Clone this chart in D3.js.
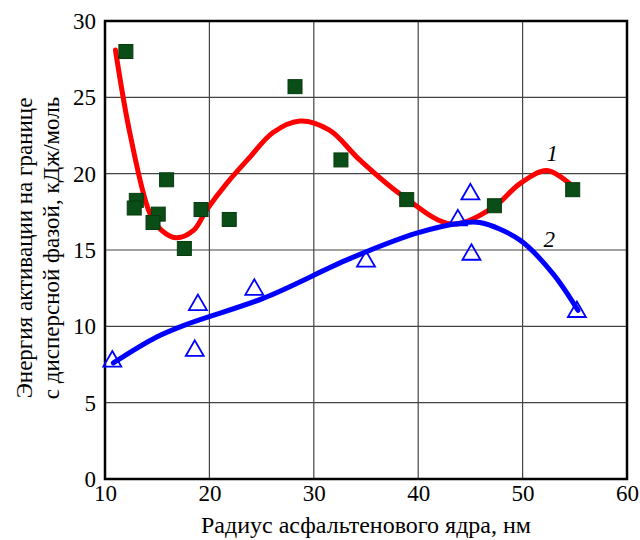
<!DOCTYPE html>
<html>
<head>
<meta charset="utf-8">
<script src="https://cdn.jsdelivr.net/npm/d3@7"></script>
<style>
  body { margin: 0; background: #fff; }
  svg text { font-family: "Liberation Serif", "Times New Roman", "DejaVu Serif", serif; fill: #000; }
</style>
</head>
<body>
<svg id="chart" width="640" height="540"></svg>
<script>
const svg = d3.select('#chart');
const FONT = '"Liberation Serif", "Times New Roman", "DejaVu Serif", serif';

// Measured points, series 1 (squares)
const squaresX = [12.0, 28.2, 32.6, 15.9, 13.0, 12.8, 15.1, 14.6, 19.2, 21.9, 17.6, 38.9, 47.3, 54.8];
const squaresY = [28.0, 25.7, 20.9, 19.6, 18.25, 17.75, 17.35, 16.8, 17.65, 17.0, 15.1, 18.3, 17.9, 18.95];

// Measured points, series 2 (triangles)
const trianglesX = [10.7, 18.9, 18.6, 24.3, 35.0, 43.8, 45.0, 45.1, 55.2];
const trianglesY = [7.7, 11.4, 8.4, 12.4, 14.25, 16.95, 18.65, 14.7, 10.95];

// Fitted curve 1 (red)
const curve1X = [11.0, 12.4, 14.3, 15.4, 16.8, 18.5, 19.7, 21.7, 23.9, 26.1, 28.7, 31.5, 34.4, 38.6, 43.2, 47.2, 49.75, 52.3, 54.5];
const curve1Y = [28.1, 22.6, 17.4, 16.3, 15.8, 16.3, 17.6, 19.4, 21.1, 22.7, 23.45, 22.85, 20.9, 18.5, 16.7, 17.8, 19.35, 20.2, 19.35];

// Fitted curve 2 (blue)
const curve2X = [10.8, 14.95, 18.1, 25.2, 33.5, 39.85, 44.0, 45.9, 49.75, 52.9, 55.3];
const curve2Y = [7.6, 9.3, 10.2, 11.85, 14.45, 16.1, 16.75, 16.8, 15.65, 13.45, 11.05];

const xTicks = [10, 20, 30, 40, 50, 60];
const yTicks = [0, 5, 10, 15, 20, 25, 30];

const xTitle = 'Радиус асфальтенового ядра, нм';
const yTitle = ['Энергия активации на границе', 'с дисперсной фазой, кДж/моль'];

const margin = { left: 105, right: 13, top: 21, bottom: 61 };
const width = +svg.attr('width');
const height = +svg.attr('height');

const x = d3.scaleLinear().domain([10, 60]).range([margin.left, width - margin.right]);
const y = d3.scaleLinear().domain([0, 30]).range([height - margin.bottom, margin.top]);

// grid
const grid = svg.append('g').attr('class', 'grid');
grid.selectAll('line.gx')
    .data(xTicks.slice(1, -1))
    .enter().append('line')
    .attr('x1', d => x(d)).attr('x2', d => x(d))
    .attr('y1', y(0)).attr('y2', y(30))
    .attr('stroke', '#444').attr('stroke-width', 1.2);
grid.selectAll('line.gy')
    .data(yTicks.slice(1, -1))
    .enter().append('line')
    .attr('y1', d => y(d)).attr('y2', d => y(d))
    .attr('x1', x(10)).attr('x2', x(60))
    .attr('stroke', '#444').attr('stroke-width', 1.2);

// frame
svg.append('rect')
    .attr('x', x(10)).attr('y', y(30))
    .attr('width', x(60) - x(10)).attr('height', y(0) - y(30))
    .attr('fill', 'none').attr('stroke', '#000').attr('stroke-width', 2.5);

// axes (labels only, the frame draws the lines)
const xAxis = svg.append('g')
    .attr('transform', `translate(0,${y(0)})`)
    .call(d3.axisBottom(x).tickValues(xTicks).tickSize(0).tickPadding(6));
const yAxis = svg.append('g')
    .attr('transform', `translate(${x(10)},0)`)
    .call(d3.axisLeft(y).tickValues(yTicks).tickSize(0).tickPadding(9));
[xAxis, yAxis].forEach(a => {
    a.attr('font-family', FONT).attr('font-size', 23);
    a.select('.domain').remove();
    a.selectAll('text').attr('fill', '#000');
});

// curves
const line = d3.line()
    .x(d => x(d[0]))
    .y(d => y(d[1]))
    .curve(d3.curveCatmullRom.alpha(0.5));

svg.append('path')
    .datum(d3.zip(curve1X, curve1Y))
    .attr('d', line)
    .attr('fill', 'none').attr('stroke', '#ff0000')
    .attr('stroke-width', 5).attr('stroke-linecap', 'round');

svg.append('path')
    .datum(d3.zip(curve2X, curve2Y))
    .attr('d', line)
    .attr('fill', 'none').attr('stroke', '#0000ff')
    .attr('stroke-width', 5).attr('stroke-linecap', 'round');

// squares
const sq = 14;
svg.append('g').selectAll('rect')
    .data(d3.zip(squaresX, squaresY))
    .enter().append('rect')
    .attr('x', d => x(d[0]) - sq / 2)
    .attr('y', d => y(d[1]) - sq / 2)
    .attr('width', sq).attr('height', sq)
    .attr('fill', '#0b4d16').attr('stroke', '#063a0e').attr('stroke-width', 1);

// triangles
const tri = d3.symbol().type(d3.symbolTriangle).size(140);
svg.append('g').selectAll('path')
    .data(d3.zip(trianglesX, trianglesY))
    .enter().append('path')
    .attr('d', tri)
    .attr('transform', d => `translate(${x(d[0])},${y(d[1])})`)
    .attr('fill', 'none').attr('stroke', '#0000ff').attr('stroke-width', 1.8);

// curve labels
svg.append('text')
    .attr('x', x(52.3)).attr('y', y(20.8))
    .style('font-size', '23px').style('font-style', 'italic')
    .text('1');
svg.append('text')
    .attr('x', x(52.0)).attr('y', y(15.2))
    .style('font-size', '23px').style('font-style', 'italic')
    .text('2');

// axis titles
svg.append('text')
    .attr('x', 366).attr('y', 533)
    .attr('text-anchor', 'middle')
    .style('font-size', '24px')
    .text(xTitle);

const yt = svg.append('text')
    .attr('transform', `translate(32,${(y(0) + y(30)) / 2 - 2}) rotate(-90)`)
    .attr('text-anchor', 'middle')
    .style('font-size', '23px');
yTitle.forEach((t, i) => {
    yt.append('tspan').attr('x', 0).attr('dy', i === 0 ? 0 : 27).text(t);
});
</script>
</body>
</html>
